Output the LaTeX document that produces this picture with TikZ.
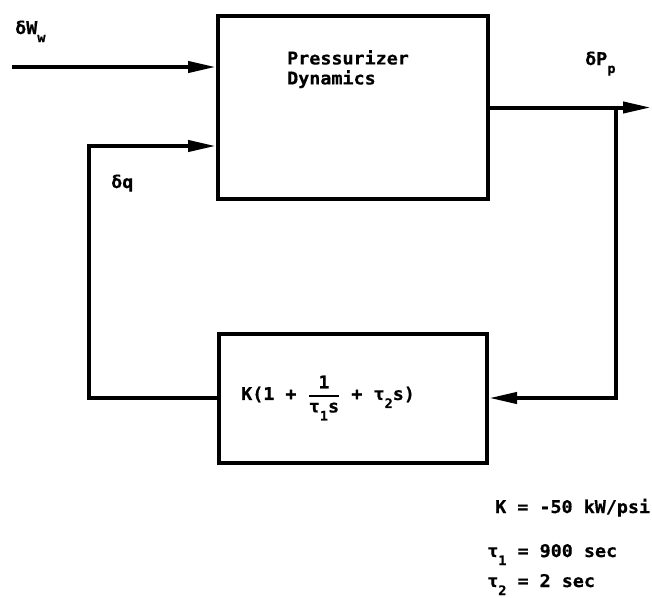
\documentclass[tikz,border=0pt]{standalone}
\usepackage{amsmath}
\usepackage{fontspec}
\setmainfont{DejaVu Sans Mono}[FakeStretch=1.05,FakeBold=0.6]
\usetikzlibrary{
  arrows.meta,
  positioning
}

\newcommand{\lowsub}[1]{\raisebox{-8pt}{\fontsize{13}{13}\selectfont #1}}

\tikzset{
  block/.style={draw, line width=4pt, inner sep=0pt},
  wire/.style={line width=4pt},
  sig/.style={wire, -{Triangle[length=28pt,width=11pt]}},
  lbl/.style={font=\bfseries\fontsize{17.5}{20}\selectfont, inner sep=0pt}
}

\begin{document}
\begin{tikzpicture}[x=1pt,y=-1pt]
  \useasboundingbox (0,0) rectangle (652,597);
  % the two blocks
  \node[block, minimum width=270pt, minimum height=183pt] (plant) at (353,107.5) {};
  \node[block, minimum width=268pt, minimum height=129pt] (ctrl) at (353,398) {};
  \node[lbl, anchor=north west, align=left] (plantname) at (287,50) {Pressurizer\\Dynamics};
  \node[lbl, anchor=west] (law) at (241,398)
    {K(1 + $\genfrac{}{}{2pt}{0}{\text{1}}{\text{τ\lowsub{1}s}}$ + τ\lowsub{2}s)};
  % signals
  \coordinate (win) at (12,67);
  \coordinate (qcorner) at (89,146);
  \coordinate (pout) at (651,108);
  \coordinate (tap) at (616,108);
  \draw[sig] (win) -- (win -| plant.west);
  \draw[sig] (ctrl.west) -| (qcorner) -- (qcorner -| plant.west);
  \draw[sig] (plant.east) -- (plant.east -| pout);
  \draw[sig] (tap) |- (ctrl.east);
  % labels
  \node[lbl, anchor=base west] (wwlbl) at (15,34) {δW\lowsub{w}};
  \node[lbl, anchor=base west] (qlbl) at (111,188) {δq};
  \node[lbl, anchor=base west] (pplbl) at (585,65) {δP\lowsub{p}};
  \node[lbl, anchor=base west] (kval) at (495,513) {K = -50 kW/psi};
  \node[lbl, anchor=base west] (tauone) at (487,557) {τ\lowsub{1} = 900 sec};
  \node[lbl, anchor=base west] (tautwo) at (487,587) {τ\lowsub{2} = 2 sec};
\end{tikzpicture}
\end{document}
